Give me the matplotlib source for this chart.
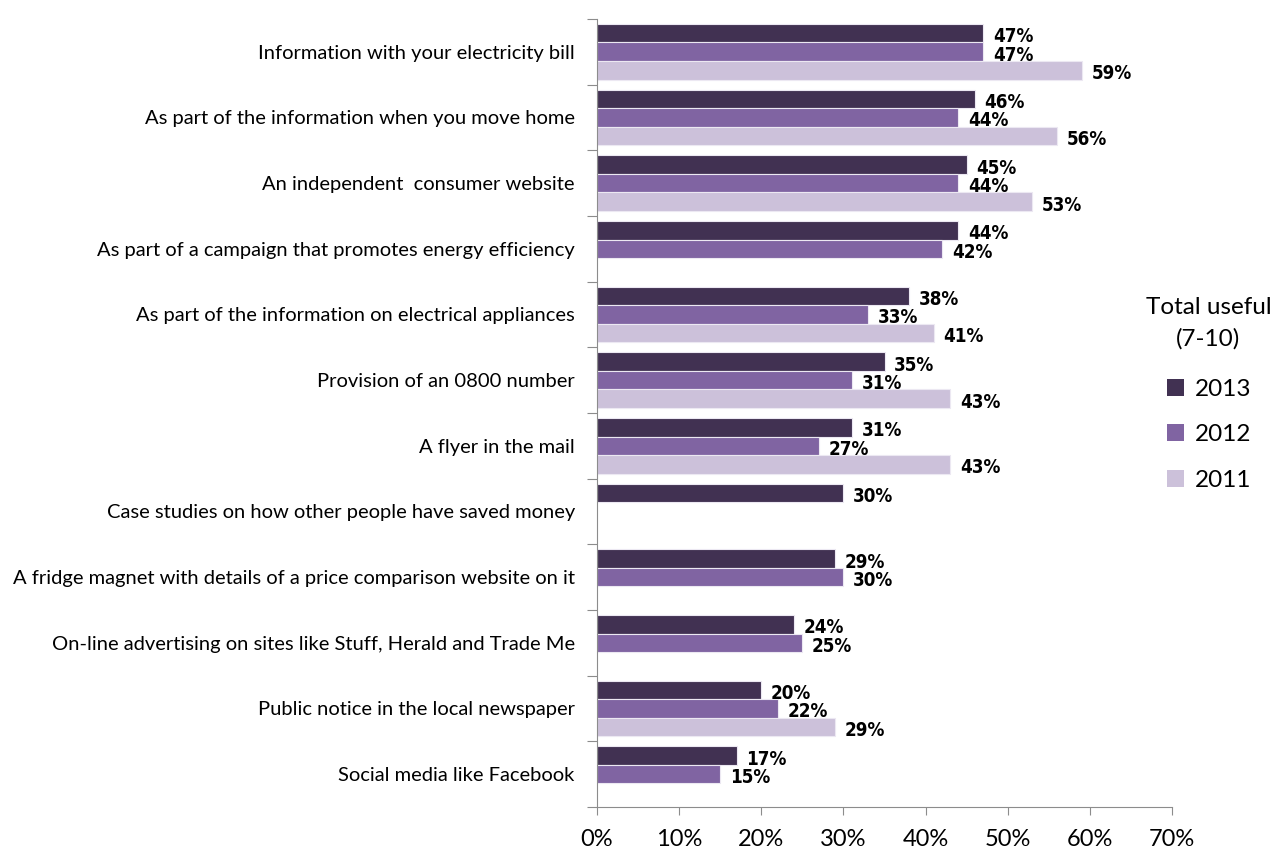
import numpy as np
import matplotlib
matplotlib.use("Agg")
import matplotlib.pyplot as plt
from matplotlib.patches import Patch
from matplotlib.ticker import PercentFormatter

plt.rcParams['font.family'] = ['Lato', 'DejaVu Sans']

categories = [
    "Information with your electricity bill",
    "As part of the information when you move home",
    "An independent  consumer website",
    "As part of a campaign that promotes energy efficiency",
    "As part of the information on electrical appliances",
    "Provision of an 0800 number",
    "A flyer in the mail",
    "Case studies on how other people have saved money",
    "A fridge magnet with details of a price comparison website on it",
    "On-line advertising on sites like Stuff, Herald and Trade Me",
    "Public notice in the local newspaper",
    "Social media like Facebook",
]
v2013 = [47, 46, 45, 44, 38, 35, 31, 30, 29, 24, 20, 17]
v2012 = [47, 44, 44, 42, 33, 31, 27, None, 30, 25, 22, 15]
v2011 = [59, 56, 53, None, 41, 43, 43, None, None, None, 29, None]
years = ["2013", "2012", "2011"]
colors = ["#413152", "#8064a2", "#ccc1da"]

fig = plt.figure(figsize=(12.76, 8.5), dpi=100)
ax = fig.add_axes([0.4679, 0.0506, 0.4506, 0.9271])

h = 0.283
y = np.arange(len(categories))
for k, (vals, col) in enumerate(zip([v2013, v2012, v2011], colors)):
    for i, v in enumerate(vals):
        if v is None:
            continue
        yy = y[i] + (k - 1) * h
        ax.barh(yy, v, height=h, color=col, edgecolor="#ece8f2", linewidth=0.8)
        ax.annotate(f"{v}%", (v, yy), xytext=(7, -2.5), textcoords="offset points",
                    ha="left", va="center", fontsize=13.5, fontweight="bold",
                    fontstretch="condensed", family=["DejaVu Sans"])

ax.set_xlim(0, 70)
ax.set_ylim(len(categories) - 0.5, -0.5)
ax.set_xticks(np.arange(0, 71, 10))
ax.xaxis.set_major_formatter(PercentFormatter(decimals=0))
ax.tick_params(axis="x", length=6, color="#8c8c8c", labelsize=17, pad=10)

# category labels sit between the boundary ticks
ax.set_yticks(np.arange(-0.5, len(categories), 1))
ax.set_yticklabels([])
ax.set_yticks(y, minor=True)
ax.set_yticklabels(categories, minor=True, fontsize=14.5)
ax.tick_params(axis="y", which="major", length=7, color="#8c8c8c")
ax.tick_params(axis="y", which="minor", length=0, pad=16)

for s in ["top", "right"]:
    ax.spines[s].set_visible(False)
for s in ["left", "bottom"]:
    ax.spines[s].set_color("#8c8c8c")

fig.text(0.947, 0.6194, "Total useful\n(7-10)", ha="center", va="center",
         fontsize=17.5, linespacing=1.6, multialignment="center")
handles = [Patch(facecolor=c, edgecolor="none") for c in colors]
leg = fig.legend(handles, years, loc="upper left", bbox_to_anchor=(0.9145, 0.554),
                 frameon=False, fontsize=17.5, handlelength=0.7, handleheight=0.7,
                 handletextpad=0.45, labelspacing=1.0, borderpad=0, borderaxespad=0)

fig.savefig("out.png", dpi=100)
